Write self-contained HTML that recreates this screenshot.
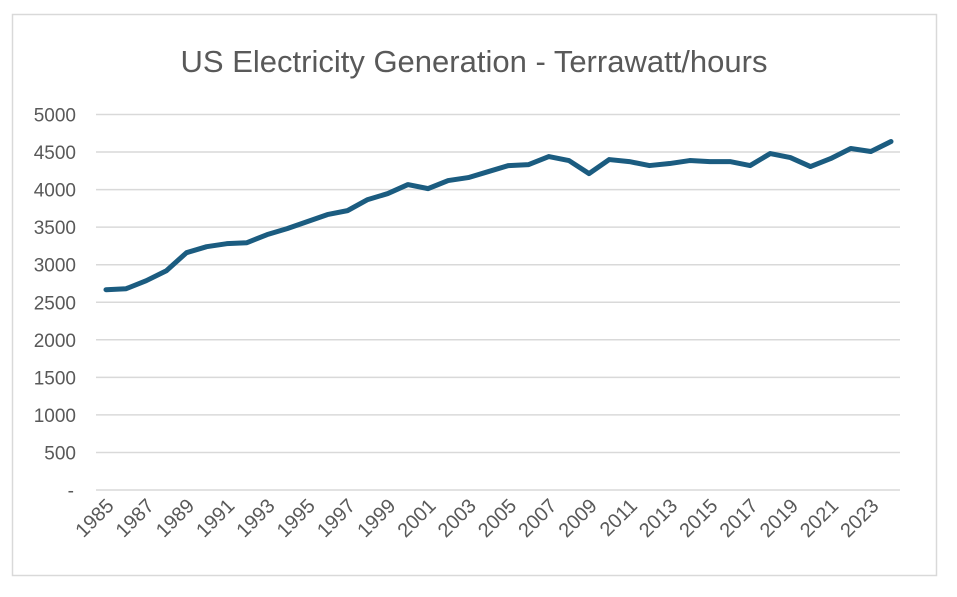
<!DOCTYPE html>
<html><head><meta charset="utf-8"><style>
html,body{margin:0;padding:0;background:#fff;}
svg{display:block;font-family:"Liberation Sans",Arial,sans-serif;}
</style></head><body>
<svg id="chart" width="957" height="597" xmlns="http://www.w3.org/2000/svg">
<rect x="12.5" y="14.5" width="924" height="561" fill="#fff" stroke="#d9d9d9" stroke-width="1.5"/>
<text x="474" y="72" text-anchor="middle" font-size="31" fill="#595959">US Electricity Generation - Terrawatt/hours</text>
<g id="grid"></g><g id="ylab"></g><g id="xlab"></g><g id="series"></g>
</svg>
<script>
const years=[];for(let y=1985;y<=2024;y++)years.push(y);
const generation=[2667,2680,2787,2920,3160,3240,3280,3293,3400,3480,3573,3667,3720,3867,3947,4067,4013,4120,4160,4240,4320,4333,4440,4387,4213,4400,4373,4320,4347,4387,4373,4373,4320,4480,4427,4307,4413,4547,4507,4640];
const yTicks=[0,500,1000,1500,2000,2500,3000,3500,4000,4500,5000];
const yTickLabels=["-","500","1000","1500","2000","2500","3000","3500","4000","4500","5000"];
const NS="http://www.w3.org/2000/svg";
const x0=106,x1=891,yb=490,yt=114.5;
function xs(i){return x0+(x1-x0)*i/(years.length-1);}
function ys(v){return yb-(yb-yt)*v/5000;}
const grid=document.getElementById('grid'),ylab=document.getElementById('ylab'),xlab=document.getElementById('xlab'),ser=document.getElementById('series');
yTicks.forEach((t,k)=>{
 const l=document.createElementNS(NS,'line');
 l.setAttribute('x1',96);l.setAttribute('x2',900);l.setAttribute('y1',ys(t));l.setAttribute('y2',ys(t));
 l.setAttribute('stroke','#d9d9d9');l.setAttribute('stroke-width','1.5');
 
 
 grid.appendChild(l);
 const tx=document.createElementNS(NS,'text');
 tx.setAttribute('x',t===0?74:76);tx.setAttribute('y',ys(t)+7);tx.setAttribute('text-anchor','end');
 tx.setAttribute('font-size','19');tx.setAttribute('fill','#595959');
 tx.textContent=yTickLabels[k];
 
 
 ylab.appendChild(tx);
});
years.forEach((y,i)=>{
 if(i%2)return;
 const tx=document.createElementNS(NS,'text');
 const x=xs(i)+9,yy=507;
 tx.setAttribute('x',x);tx.setAttribute('y',yy);tx.setAttribute('text-anchor','end');
 tx.setAttribute('transform','rotate(-45 '+x+' '+yy+')');
 tx.setAttribute('font-size','20');tx.setAttribute('fill','#595959');
 tx.textContent=y;
 
 
 xlab.appendChild(tx);
});
const p=document.createElementNS(NS,'polyline');
p.setAttribute('points',generation.map((v,i)=>xs(i)+','+ys(v)).join(' '));
p.setAttribute('fill','none');p.setAttribute('stroke','#1b5c80');p.setAttribute('stroke-width','5');
p.setAttribute('stroke-linejoin','round');p.setAttribute('stroke-linecap','round');


ser.appendChild(p);
</script>
</body></html>
